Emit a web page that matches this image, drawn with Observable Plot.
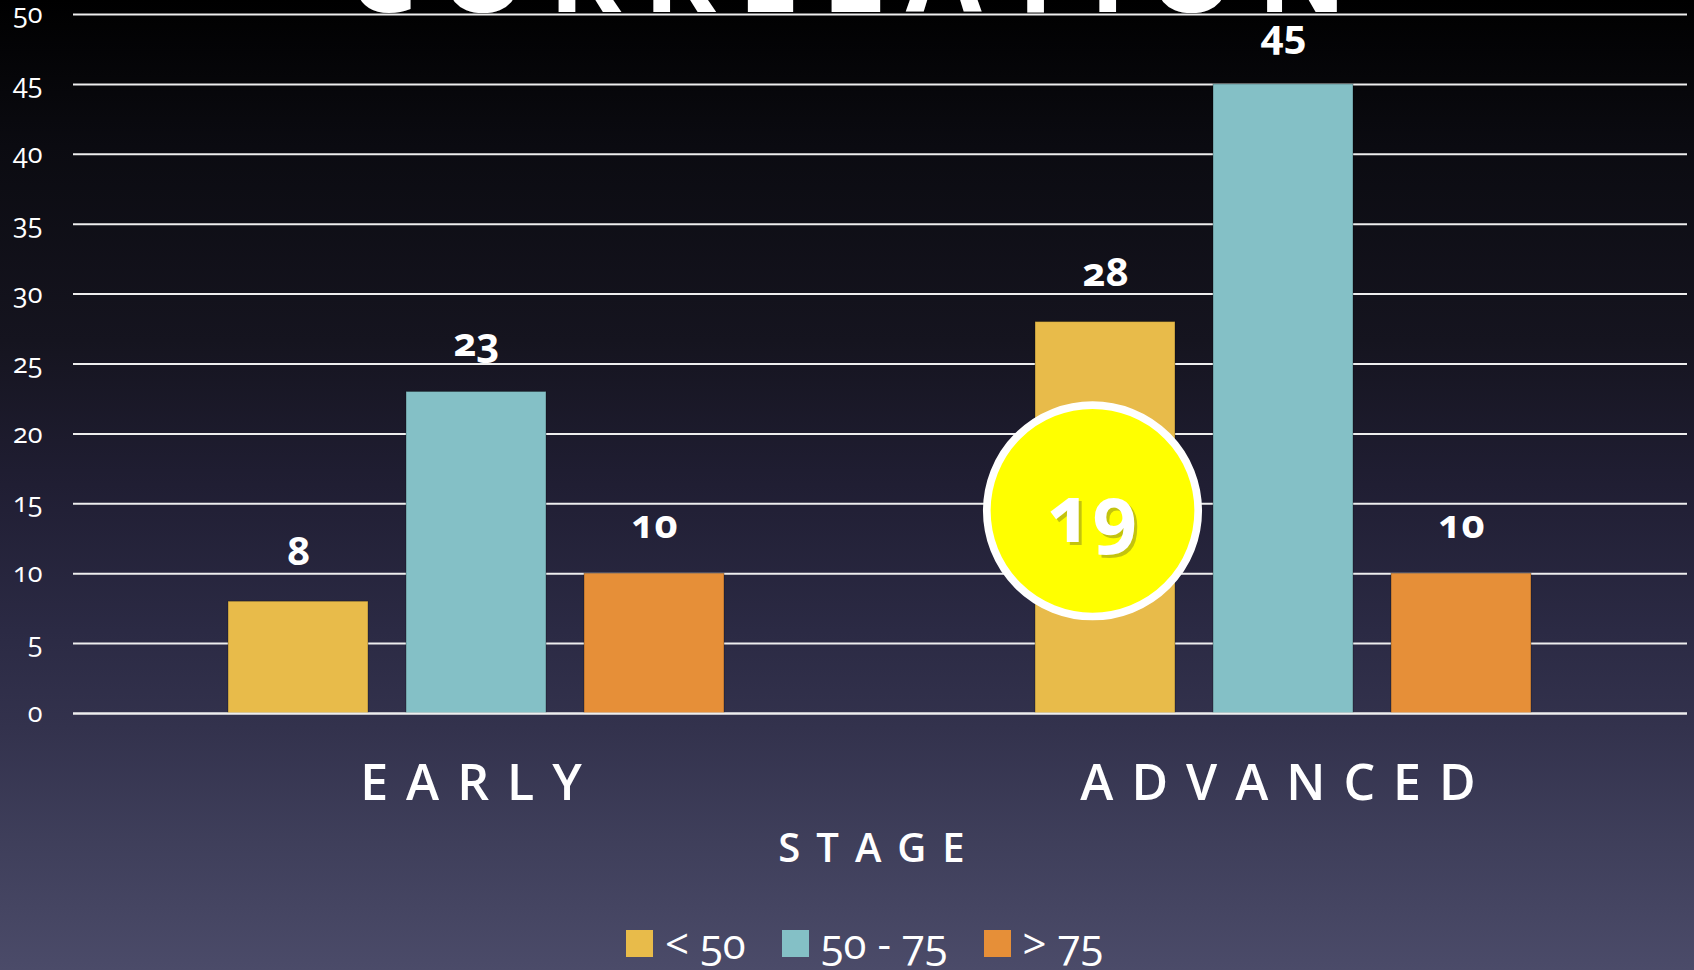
<!DOCTYPE html>
<html>
<head>
<meta charset="utf-8">
<script src="https://cdn.jsdelivr.net/npm/d3@7"></script>
<script src="https://cdn.jsdelivr.net/npm/@observablehq/plot@0.6"></script>
<style>
  html, body { margin: 0; padding: 0; }
  body {
    width: 1694px; height: 970px; overflow: hidden; position: relative;
    background: linear-gradient(to bottom, #000000 0%, #0b0b11 15%, #15141f 35%, #201e33 50%, #2b2a44 65%, #33324d 75%, #3f3f5b 87%, #4b4b69 100%);
    font-family: "Open Sans", sans-serif; color: #ffffff;
  }
  #chart { position: absolute; left: 0; top: 0; }
  #chart svg text { font-variant-numeric: oldstyle-nums; }
  #chart svg [aria-label="fx-axis tick label"] text { letter-spacing: 18px; }
  #title {
    position: absolute; left: 0; top: -71px; width: 1694px; text-align: center;
    font-size: 110px; line-height: 80px; font-weight: 700; letter-spacing: 22px; text-indent: 22px;
    white-space: nowrap;
  }
  #stage {
    position: absolute; left: 72px; width: 1615px; top: 827px; text-align: center;
    font-size: 40px; line-height: 40px; font-weight: 600; letter-spacing: 16px;
  }
  #legend {
    position: absolute; left: 626px; top: 923px; display: flex; align-items: center;
    font-size: 42px; line-height: 40px; font-weight: 400; font-variant-numeric: oldstyle-nums; white-space: nowrap;
  }
  #legend .item { display: flex; align-items: center; margin-right: 36px; }
  #legend .sw { width: 27px; height: 27px; margin-right: 12px; }
</style>
</head>
<body>
<div id="chart"></div>
<div id="title"></div>
<div id="stage"></div>
<div id="legend"></div>
<script>
// ---- data ----
const titleText = "CORRELATION";
const axisTitle = "STAGE";
const stages = ["EARLY", "ADVANCED"];
const ages = ["< 50", "50 - 75", "> 75"];
const earlyValues = [8, 23, 10];
const advancedValues = [28, 45, 10];
const ageColors = ["#e8bb4a", "#84c0c6", "#e68f38"];
const yTicks = [0, 5, 10, 15, 20, 25, 30, 35, 40, 45, 50];
const calloutStage = "ADVANCED";
const calloutAge = "< 50";
const calloutY = 14.5;
const calloutLabel = "19";

const table = [];
stages.forEach((s, i) => {
  const vals = i === 0 ? earlyValues : advancedValues;
  ages.forEach((a, j) => table.push({stage: s, age: a, value: vals[j]}));
});
const callout = [{stage: calloutStage, age: calloutAge, y: calloutY, label: calloutLabel}];

const chart = Plot.plot({
  width: 1694,
  height: 815,
  marginLeft: 72,
  marginRight: 7,
  marginTop: 14,
  marginBottom: 102,
  style: {background: "transparent", color: "#ffffff", fontFamily: "'Open Sans', sans-serif", overflow: "visible"},
  fx: {domain: stages, padding: 0, label: null},
  x: {domain: ages, paddingInner: 0.2123, paddingOuter: 0.862, axis: null},
  y: {domain: [0, 50], axis: null},
  color: {domain: ages, range: ageColors},
  marks: [
    Plot.gridY(yTicks, {stroke: "#eeeeee", strokeOpacity: 1, strokeWidth: 2}),
    Plot.axisY(yTicks, {anchor: "left", tickSize: 0, tickPadding: 31, fontSize: 27, fill: "#ffffff", label: null}),
    Plot.axisFx({anchor: "bottom", tickSize: 0, tickPadding: 51, fontSize: 50, fontWeight: 600, fill: "#ffffff", label: null, dx: 3}),
    Plot.barY(table, {fx: "stage", x: "age", y: "value", fill: "age", stroke: "#000000", strokeOpacity: 0.3, strokeWidth: 1}),
    Plot.ruleY([0], {stroke: "#eeeeee", strokeWidth: 2}),
    Plot.text(table, {fx: "stage", x: "age", y: "value", text: d => String(d.value), dy: -49, fontSize: 40, fontWeight: 700, fill: "#ffffff"}),
    Plot.dot(callout, {fx: "stage", x: "age", y: "y", dx: -13, r: 105.7, fill: "#ffff00", stroke: "#ffffff", strokeWidth: 7.7}),
    Plot.text(callout, {fx: "stage", x: "age", y: "y", text: "label", dx: -10, dy: 9, fontSize: 78, fontWeight: 700, fill: "#7a7a20", fillOpacity: 0.45}),
    Plot.text(callout, {fx: "stage", x: "age", y: "y", text: "label", dx: -13, dy: 6, fontSize: 78, fontWeight: 700, fill: "#ffffff"})
  ]
});
document.getElementById("chart").appendChild(chart);

document.getElementById("title").textContent = titleText;
document.getElementById("stage").textContent = axisTitle;
const legend = document.getElementById("legend");
ages.forEach((a, i) => {
  const item = document.createElement("div");
  item.className = "item";
  const sw = document.createElement("div");
  sw.className = "sw";
  sw.style.background = ageColors[i];
  const lab = document.createElement("span");
  lab.textContent = a;
  item.appendChild(sw);
  item.appendChild(lab);
  legend.appendChild(item);
});
</script>
</body>
</html>
